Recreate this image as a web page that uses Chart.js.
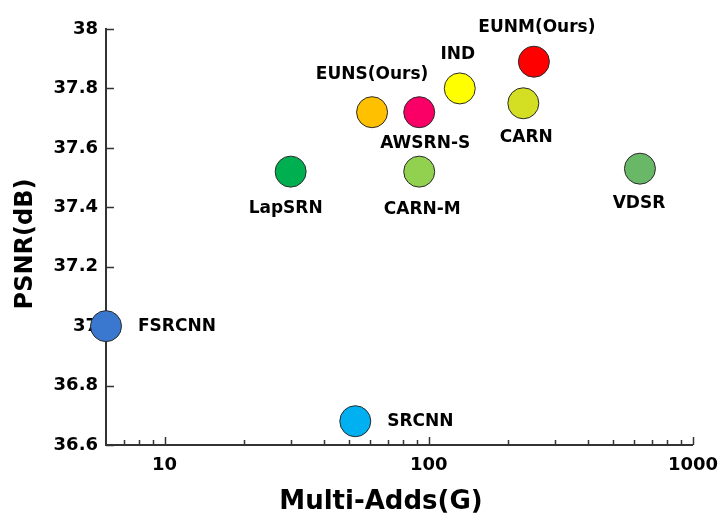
<!DOCTYPE html>
<html>
<head>
<meta charset="utf-8">
<script src="https://cdn.jsdelivr.net/npm/chart.js@4"></script>
<style>
  html, body { margin: 0; padding: 0; background: #fff; }
  #wrap { width: 728px; height: 524px; position: relative; }
</style>
</head>
<body>
<div id="wrap"><canvas id="c" width="728" height="524"></canvas></div>
<script>
// ---- data ----
const models   = ['FSRCNN', 'SRCNN', 'LapSRN', 'CARN-M', 'VDSR', 'EUNS(Ours)', 'AWSRN-S', 'IND', 'EUNM(Ours)', 'CARN'];
const multiAdds = [6, 52.7, 30, 92, 630, 61, 92, 131, 250, 228];
const psnr      = [37.0, 36.68, 37.52, 37.52, 37.53, 37.72, 37.72, 37.80, 37.89, 37.75];
const pointColors = ['#3a78cf', '#00b0f0', '#00b050', '#92d050', '#68b868', '#ffc000', '#fa0066', '#ffff00', '#ff0000', '#d4de22'];
const xTickValues = [10, 100, 1000];
const yTickValues = [36.6, 36.8, 37.0, 37.2, 37.4, 37.6, 37.8, 38.0];
const xTitle = 'Multi-Adds(G)';
const yTitle = 'PSNR(dB)';

// label placement relative to each point (pixels): [dx, dy, align]
const labelOffsets = [
  [32, 0, 'left'], [32, 0, 'left'], [-5, 37, 'center'], [3, 38, 'center'], [-1, 35, 'center'],
  [0, -38, 'center'], [6, 31, 'center'], [-2, -34, 'center'], [3, -34, 'center'], [3, 34, 'center']
];

const FONT = '"DejaVu Sans", sans-serif';

const axisTicksPlugin = {
  id: 'axisTicks',
  beforeDatasetsDraw(chart) {
    const ctx = chart.ctx;
    const xs = chart.scales.x, ys = chart.scales.y;
    const area = chart.chartArea;
    ctx.save();
    ctx.strokeStyle = '#333';
    ctx.lineWidth = 1.5;
    yTickValues.forEach(v => {
      const py = Math.round(ys.getPixelForValue(v)) + 0.5;
      ctx.beginPath();
      ctx.moveTo(area.left, py);
      ctx.lineTo(area.left + 8, py);
      ctx.stroke();
    });
    const minV = xs.min, maxV = xs.max;
    for (let e = 0; e <= 3; e++) {
      for (let k = 1; k <= 9; k++) {
        const v = k * Math.pow(10, e);
        if (v <= minV * 1.0001 || v > maxV * 1.0001) continue;
        const px = Math.round(xs.getPixelForValue(v)) + 0.5;
        const len = (k === 1) ? 8 : 5;
        ctx.beginPath();
        ctx.moveTo(px, area.bottom);
        ctx.lineTo(px, area.bottom - len);
        ctx.stroke();
      }
    }
    // axis titles
    ctx.fillStyle = '#000';
    ctx.textAlign = 'center';
    ctx.textBaseline = 'middle';
    ctx.font = 'bold 26px ' + FONT;
    ctx.fillText(xTitle, 381, 502);
    ctx.save();
    ctx.translate(26, 244);
    ctx.rotate(-Math.PI / 2);
    ctx.font = 'bold 24px ' + FONT;
    ctx.fillText(yTitle, 0, 0);
    ctx.restore();
    ctx.restore();
  },
  afterDatasetsDraw(chart) {
    const ctx = chart.ctx;
    const xs = chart.scales.x, ys = chart.scales.y;
    ctx.save();
    ctx.fillStyle = '#000';
    ctx.font = 'bold 17px ' + FONT;
    ctx.textBaseline = 'middle';
    models.forEach((name, i) => {
      const px = xs.getPixelForValue(multiAdds[i]);
      const py = ys.getPixelForValue(psnr[i]);
      const [dx, dy, align] = labelOffsets[i];
      ctx.textAlign = align;
      ctx.fillText(name, px + dx, py + dy);
    });
    ctx.restore();
  }
};

new Chart(document.getElementById('c'), {
  type: 'scatter',
  data: {
    datasets: [{
      data: multiAdds.map((x, i) => ({ x: x, y: psnr[i] })),
      backgroundColor: pointColors,
      borderColor: '#2a2a2a',
      borderWidth: 1,
      pointRadius: 15.5,
      pointHoverRadius: 15.5,
      clip: false
    }]
  },
  options: {
    responsive: false,
    animation: false,
    events: [],
    layout: { padding: { top: 29, right: 34, left: 0, bottom: 0 } },
    plugins: { legend: { display: false }, tooltip: { enabled: false } },
    scales: {
      x: {
        type: 'logarithmic',
        min: 6,
        max: 1000,
        grid: { display: false, drawTicks: false },
        border: { display: true, color: '#333', width: 2 },
        afterBuildTicks(scale) { scale.ticks = xTickValues.map(v => ({ value: v })); },
        afterFit(scale) { scale.height = 79; },
        ticks: {
          autoSkip: false, maxRotation: 0, padding: 10,
          color: '#000',
          font: { family: FONT, size: 18, weight: 'bold' },
          callback: (v) => String(v)
        },
        title: { display: false }
      },
      y: {
        min: 36.6,
        max: 38,
        grid: { display: false, drawTicks: false },
        border: { display: true, color: '#333', width: 2 },
        afterBuildTicks(scale) { scale.ticks = yTickValues.map(v => ({ value: v })); },
        afterFit(scale) { scale.width = 106; },
        ticks: {
          padding: 8,
          color: '#000',
          font: { family: FONT, size: 18, weight: 'bold' },
          callback: (v) => String(Number(v.toFixed(1)))
        },
        title: { display: false }
      }
    }
  },
  plugins: [axisTicksPlugin]
});
</script>
</body>
</html>
